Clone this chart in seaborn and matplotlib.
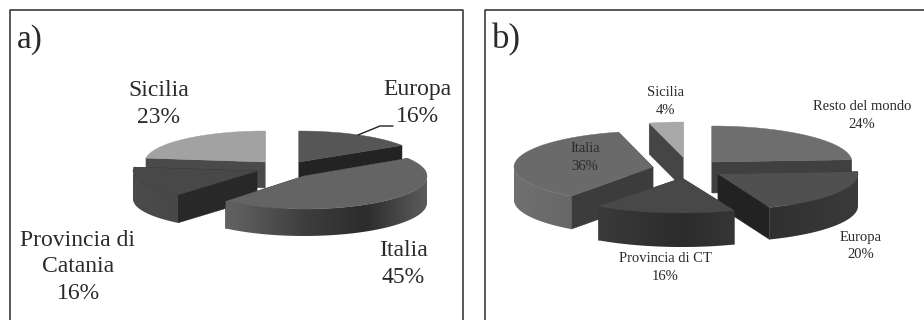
import numpy as np
import matplotlib
matplotlib.use("Agg")
import matplotlib.pyplot as plt
from matplotlib.colors import LinearSegmentedColormap
from matplotlib.patches import Polygon
import seaborn as sns

sns.set_theme(style="white")
plt.rcParams["font.family"] = ["Liberation Serif", "DejaVu Serif"]

# Shares of each destination, clockwise from twelve o'clock
labels_a = ["Europa", "Italia", "Provincia di\nCatania", "Sicilia"]
values_a = [16, 45, 16, 23]
labels_b = ["Resto del mondo", "Europa", "Provincia di CT", "Italia", "Sicilia"]
values_b = [24, 20, 16, 36, 4]

W, H = 924, 320
layer = [2]


def next_layer():
    layer[0] += 1
    return layer[0]


def draw_slice(ax, start, end, cx, cy, rx, ry, depth, top, cut, rim):
    """Extruded elliptical wedge; start/end are clockwise degrees from the top."""
    th = np.radians(np.linspace(start, end, 181))
    px = cx + rx * np.sin(th)
    py = cy - ry * np.cos(th)

    # Flat cut faces, the one further back first
    cuts = sorted((0, -1), key=lambda i: py[i])
    for i in cuts:
        ax.fill([cx, px[i], px[i], cx], [cy, py[i], py[i] + depth, cy + depth],
                color=cut, lw=0.3, zorder=next_layer())

    # Curved outer wall with a horizontal shading ramp, front half only
    lo, hi = max(start, 90), min(end, 270)
    if hi > lo:
        tr = np.radians(np.linspace(lo, hi, 121))
        rxs = cx + rx * np.sin(tr)
        rys = cy - ry * np.cos(tr)
        outline = np.c_[np.r_[rxs, rxs[::-1]], np.r_[rys, rys[::-1] + depth]]
        clip = Polygon(outline, closed=True, transform=ax.transData)
        cmap = LinearSegmentedColormap.from_list("wall", rim)
        img = ax.imshow(np.linspace(0, 1, 256)[None, :], cmap=cmap, aspect="auto",
                        extent=[cx - rx, cx + rx, cy + ry + depth, cy - ry],
                        zorder=next_layer(), interpolation="bilinear")
        img.set_clip_path(clip)

    ax.fill(np.r_[cx, px], np.r_[cy, py], color=top, lw=0.3, zorder=next_layer())


def draw_pie(ax, values, layout, order):
    edges = np.r_[0, np.cumsum(values)] / np.sum(values) * 360
    for i in order:
        draw_slice(ax, edges[i], edges[i + 1], **layout[i])


fig = plt.figure(figsize=(W / 100, H / 100), dpi=100, facecolor="white")
ax = fig.add_axes([0, 0, 1, 1])
ax.axis("off")

# Panel frames: the right one runs off the page, both are open at the bottom
ax.plot([10, 10, 463, 463], [H, 10, 10, H], color="#2a2a2a", lw=1.1)
ax.plot([485, 485, W], [H, 10, 10], color="#2a2a2a", lw=1.1)

layout_a = [
    dict(cx=299, cy=162, rx=122, ry=31, depth=26, top="#565656", cut="#232323",
         rim=["#303030", "#2a2a2a"]),
    dict(cx=304, cy=176, rx=123, ry=33, depth=27, top="#646464", cut="#2a2a2a",
         rim=["#707070", "#5c5c5c", "#3e3e3e", "#2c2c2c", "#5c5c5c"]),
    dict(cx=257, cy=171, rx=124, ry=31, depth=28, top="#484848", cut="#282828",
         rim=["#4c4c4c", "#3e3e3e", "#383838"]),
    dict(cx=265, cy=162, rx=120, ry=31, depth=26, top="#a2a2a2", cut="#4a4a4a",
         rim=["#505050", "#484848"]),
]
draw_pie(ax, values_a, layout_a, [3, 0, 2, 1])

layout_b = [
    dict(cx=712, cy=162, rx=140, ry=36, depth=31, top="#6e6e6e", cut="#404040",
         rim=["#404040", "#383838"]),
    dict(cx=718, cy=174, rx=140, ry=36, depth=32, top="#505050", cut="#222222",
         rim=["#222222", "#2a2a2a", "#3a3a3a"]),
    dict(cx=682, cy=178, rx=142, ry=35, depth=34, top="#484848", cut="#333333",
         rim=["#444444", "#2c2c2c", "#454545"]),
    dict(cx=653, cy=167, rx=139, ry=36, depth=33, top="#6a6a6a", cut="#3c3c3c",
         rim=["#707070", "#5a5a5a", "#484848"]),
    dict(cx=683, cy=157, rx=136, ry=35, depth=31, top="#a8a8a8", cut="#454545",
         rim=["#454545", "#454545"]),
]
draw_pie(ax, values_b, layout_b, [4, 0, 3, 1, 2])

ax.set_xlim(0, W)
ax.set_ylim(H, 0)

# Leader from the Europa label to its slice
ax.plot([358, 380, 393], [135, 126, 126], color="#222222", lw=1, zorder=next_layer())

ink = "#2a2a2a"
ax.text(17, 40, "a)", fontsize=24, color=ink, va="center", ha="left")
ax.text(492, 40, "b)", fontsize=25, color=ink, va="center", ha="left")


def label(x, y, name, value, size, spacing):
    ax.text(x, y, f"{name}\n{value}%", fontsize=size, color=ink, ha="center",
            va="center", linespacing=spacing, zorder=next_layer())


label(159, 104, labels_a[3], values_a[3], 17, 1.32)
label(417, 103, labels_a[0], values_a[0], 17, 1.32)
label(403, 264, labels_a[1], values_a[1], 17, 1.32)
label(78, 267, labels_a[2], values_a[2], 17, 1.32)

label(665, 102, labels_b[4], values_b[4], 10.5, 1.5)
label(862, 115, labels_b[0], values_b[0], 10.5, 1.5)
label(585, 157, labels_b[3], values_b[3], 10.5, 1.5)
label(861, 246, labels_b[1], values_b[1], 10.5, 1.5)
label(665, 267, labels_b[2], values_b[2], 10.5, 1.5)

fig.savefig("out.png", dpi=100, facecolor="white")
